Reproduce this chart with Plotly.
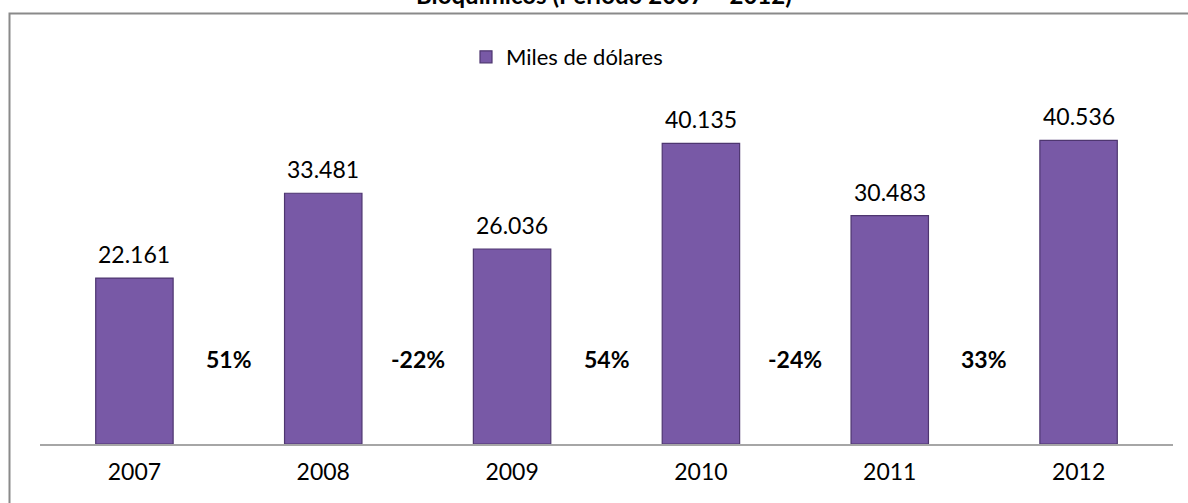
import plotly.graph_objects as go

years = ["2007", "2008", "2009", "2010", "2011", "2012"]
values = [22161, 33481, 26036, 40135, 30483, 40536]
value_labels = ["22.161", "33.481", "26.036", "40.135", "30.483", "40.536"]
growth_labels = ["51%", "-22%", "54%", "-24%", "33%"]
series_name = "Miles de dólares"
title_text = "Bioquímicos (Período 2007 – 2012)"

FONT = "Lato, Calibri, Carlito, sans-serif"
BAR = "#7859a6"

W, H = 1188, 503
ML, MR, MT, MB = 40, 15, 107, 59
pw = W - ML - MR
ph = H - MT - MB

def px_x(p):
    return (p - ML) / pw

def px_y(p):
    return (H - MB - p) / ph

xs = list(range(len(years)))

fig = go.Figure()
fig.add_trace(go.Bar(
    x=xs, y=values, name=series_name, width=0.41,
    marker=dict(color=BAR, line=dict(color="#4e3670", width=1.2)),
    showlegend=True,
))

annotations = []
for x, v, t in zip(xs, values, value_labels):
    annotations.append(dict(x=x, y=v, xref="x", yref="y", text=t, showarrow=False,
                            yanchor="bottom", yshift=8,
                            font=dict(family=FONT, size=23, color="#000000")))
for i, g in enumerate(growth_labels):
    annotations.append(dict(x=i + 0.5, y=px_y(359), xref="x", yref="paper", text="<b>" + g + "</b>",
                            showarrow=False, yanchor="middle",
                            font=dict(family=FONT, size=23, color="#000000")))
annotations.append(dict(x=px_x(604), y=px_y(-6), xref="paper", yref="paper",
                        text="<b>" + title_text + "</b>", showarrow=False,
                        xanchor="center", yanchor="middle",
                        font=dict(family=FONT, size=24, color="#000000")))

shapes = [dict(type="rect", xref="paper", yref="paper",
               x0=px_x(9.5), x1=px_x(1200), y0=px_y(520), y1=px_y(13.5),
               line=dict(color="#8a8a8a", width=2), fillcolor="rgba(0,0,0,0)", layer="below")]

fig.update_layout(
    width=W, height=H,
    margin=dict(l=ML, r=MR, t=MT, b=MB),
    paper_bgcolor="white", plot_bgcolor="white",
    font=dict(family=FONT, size=23, color="#000000"),
    xaxis=dict(range=[-0.5, 5.5], tickmode="array", tickvals=xs, ticktext=years,
               showline=True, linecolor="#a6a6a6", linewidth=2, showgrid=False,
               zeroline=False, ticks="", ticklabelstandoff=6,
               tickfont=dict(family=FONT, size=23, color="#000000")),
    yaxis=dict(range=[0, 45000], visible=False, showgrid=False, zeroline=False),
    legend=dict(orientation="h", x=px_x(466), xanchor="left", y=px_y(57), yanchor="middle",
                font=dict(family=FONT, size=22, color="#000000"), bgcolor="rgba(0,0,0,0)"),
    annotations=annotations,
    shapes=shapes,
    bargap=0.59,
)

fig.write_html("out.html", config={"displayModeBar": False},
               post_script="document.body.style.margin='0';document.body.style.overflow='hidden';")
